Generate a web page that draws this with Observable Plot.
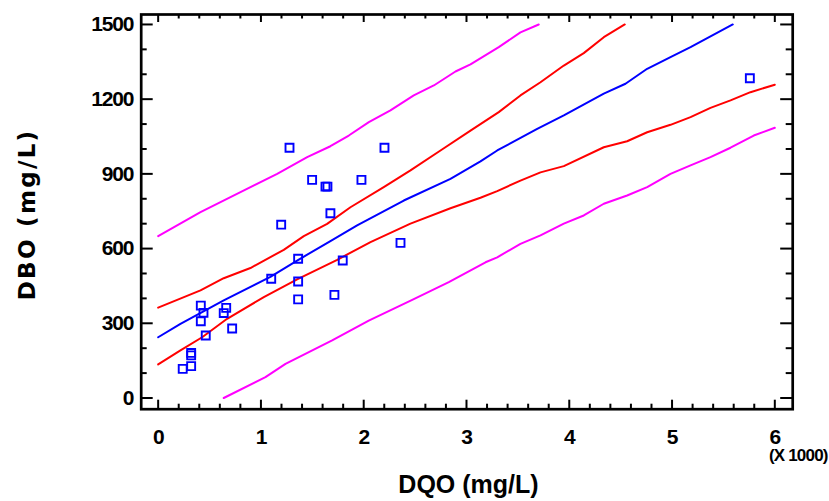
<!DOCTYPE html>
<html><head><meta charset="utf-8">
<script src="https://cdn.jsdelivr.net/npm/d3@7"></script>
<script src="https://cdn.jsdelivr.net/npm/@observablehq/plot@0.6"></script>
<style>
html,body{margin:0;padding:0;background:#fff;}
#chart{width:829px;height:501px;}
</style></head><body><div id="chart"></div>
<script>
// Observed points: DQO (mg/L) vs DBO (mg/L)
const dqo = [239, 321, 321, 321, 415, 441, 415, 463, 638, 662, 720, 1100, 1197, 1278, 1362, 1362, 1362, 1498, 1628, 1647, 1676, 1715, 1796, 1978, 2202, 2358, 5757];
const dbo = [117, 128, 181, 171, 371, 342, 308, 251, 341, 362, 279, 479, 696, 1005, 559, 468, 396, 876, 849, 849, 742, 414, 552, 876, 1005, 623, 1284];

// Fitted model (blue)
const fitX = [0, 217, 638, 1092, 1352, 1676, 1936, 2390, 2844, 3136, 3299, 3688, 3947, 4336, 4547, 4758, 4985, 5180, 5591];
const fitY = [244, 298, 392, 486, 552, 630, 693, 793, 880, 950, 994, 1081, 1135, 1222, 1262, 1322, 1369, 1409, 1500];

// Confidence limits (red)
const confUpX = [0, 412, 638, 898, 1222, 1417, 1644, 1871, 2195, 2455, 2747, 3039, 3314, 3525, 3720, 3947, 4141, 4336, 4540];
const confUpY = [363, 432, 481, 522, 595, 650, 699, 766, 847, 914, 994, 1074, 1148, 1215, 1268, 1335, 1385, 1449, 1500];
const confLoX = [0, 217, 428, 671, 1028, 1352, 1742, 2066, 2455, 2844, 3136, 3299, 3525, 3720, 3947, 4336, 4563, 4758, 4985, 5180, 5374, 5569, 5763, 6000];
const confLoY = [135, 191, 244, 318, 405, 476, 555, 626, 700, 762, 804, 831, 873, 906, 931, 1007, 1031, 1067, 1097, 1128, 1165, 1195, 1228, 1258];

// Prediction limits (magenta)
const predUpX = [0, 412, 801, 1158, 1450, 1676, 1855, 2050, 2260, 2487, 2682, 2893, 3039, 3314, 3525, 3703];
const predUpY = [650, 746, 827, 900, 967, 1011, 1054, 1108, 1155, 1215, 1255, 1311, 1340, 1409, 1468, 1500];
const predLoX = [638, 1044, 1239, 1693, 2049, 2472, 2828, 3185, 3299, 3525, 3720, 3947, 4141, 4336, 4563, 4758, 4985, 5180, 5374, 5569, 5795, 6000];
const predLoY = [0, 84, 137, 231, 311, 394, 465, 545, 565, 619, 653, 700, 733, 780, 813, 847, 900, 934, 967, 1005, 1054, 1085];

// Axis ticks and labels
const xTicks = [0, 1000, 2000, 3000, 4000, 5000, 6000];
const yTicks = [0, 300, 600, 900, 1200, 1500];
const xLabel = "DQO (mg/L)";
const yLabel = "DBO (mg/L)";
const xUnit = "(X 1000)";

const W = 829, H = 501, mL = 140.7, mR = 36.8, mT = 14, mB = 92.3;
const plotW = W - mL - mR, plotH = H - mT - mB;
const xMinor = d3.range(0, 6001, 200).filter(v => !xTicks.includes(v));
const yMinor = d3.range(0, 1501, 100).filter(v => !yTicks.includes(v));

const pts = dqo.map((x, i) => ({x, y: dbo[i]}));
const toXY = (xs, ys) => xs.map((x, i) => ({x, y: ys[i]}));
const font = "Liberation Sans, Arial, Helvetica, sans-serif";

const chart = Plot.plot({
  width: W, height: H,
  marginLeft: mL, marginRight: mR, marginTop: mT, marginBottom: mB,
  x: {domain: [-165, 6174]},
  y: {domain: [-45, 1540]},
  marks: [
    // ticks (inward on all four sides)
    Plot.ruleX(xTicks, {x: d => d, insetTop: plotH - 9, stroke: "#000", strokeWidth: 2}),
    Plot.ruleX(xMinor, {x: d => d, insetTop: plotH - 5, stroke: "#000", strokeWidth: 2}),
    Plot.ruleX(xTicks, {x: d => d, insetBottom: plotH - 8, stroke: "#000", strokeWidth: 2}),
    Plot.ruleX(xMinor, {x: d => d, insetBottom: plotH - 4.5, stroke: "#000", strokeWidth: 2}),
    Plot.ruleY(yTicks, {y: d => d, insetRight: plotW - 12, stroke: "#000", strokeWidth: 2}),
    Plot.ruleY(yMinor, {y: d => d, insetRight: plotW - 6, stroke: "#000", strokeWidth: 2}),
    Plot.ruleY(yTicks, {y: d => d, insetLeft: plotW - 12, stroke: "#000", strokeWidth: 2}),
    Plot.ruleY(yMinor, {y: d => d, insetLeft: plotW - 6.5, stroke: "#000", strokeWidth: 2}),
    Plot.frame({stroke: "#000", strokeWidth: 2.7}),
    Plot.axisX({ticks: xTicks, tickSize: 0, tickPadding: 19.5, tickFormat: d => d / 1000, label: null,
      fontSize: 21, fontWeight: "bold", fontFamily: font, fill: "#000"}),
    Plot.axisY({ticks: yTicks, tickSize: 0, tickPadding: 8, tickFormat: d => String(d), label: null,
      fontSize: 21, fontWeight: "bold", fontFamily: font, fill: "#000"}),
    // limits and fit
    Plot.line(toXY(predUpX, predUpY), {x: "x", y: "y", stroke: "#ff00ff", strokeWidth: 2}),
    Plot.line(toXY(predLoX, predLoY), {x: "x", y: "y", stroke: "#ff00ff", strokeWidth: 2}),
    Plot.line(toXY(confUpX, confUpY), {x: "x", y: "y", stroke: "#ff0000", strokeWidth: 2}),
    Plot.line(toXY(confLoX, confLoY), {x: "x", y: "y", stroke: "#ff0000", strokeWidth: 2}),
    Plot.line(toXY(fitX, fitY), {x: "x", y: "y", stroke: "#0000ff", strokeWidth: 2}),
    Plot.dot(pts, {x: "x", y: "y", symbol: "square", r: 4.5, stroke: "#0000ff", strokeWidth: 1.9, fill: "none"}),
    // labels
    Plot.text([xLabel], {frameAnchor: "bottom", text: d => d, dx: 1.5, dy: 66.3, lineAnchor: "top", textAnchor: "middle",
      fontSize: 25, fontWeight: "bold", fontFamily: font, fill: "#000"}),
    Plot.text([xUnit], {frameAnchor: "bottom-right", text: d => d, dx: 35, dy: 46, textAnchor: "end", lineAnchor: "middle",
      fontSize: 17, fontWeight: "bold", fontFamily: font, fill: "#000"}),
    Plot.text([yLabel], {frameAnchor: "left", text: d => d, rotate: -90, dx: -113.7, dy: 2.6, lineAnchor: "middle", textAnchor: "middle",
      fontSize: 23, fontWeight: "bold", fontFamily: "DejaVu Sans, Verdana, sans-serif", fill: "#000"})
  ]
});
document.getElementById("chart").appendChild(chart);

// letter spacing tweaks for the condensed look
d3.select(chart).selectAll('g[aria-label="x-axis tick label"] text, g[aria-label="y-axis tick label"] text')
  .style("letter-spacing", "-1.2px");
d3.select(chart).selectAll("text").each(function() {
  const t = this.textContent;
  if (t === yLabel) d3.select(this).style("letter-spacing", "2.3px");
  if (t === xUnit) d3.select(this).style("letter-spacing", "-0.8px");
});
</script>
</body></html>
